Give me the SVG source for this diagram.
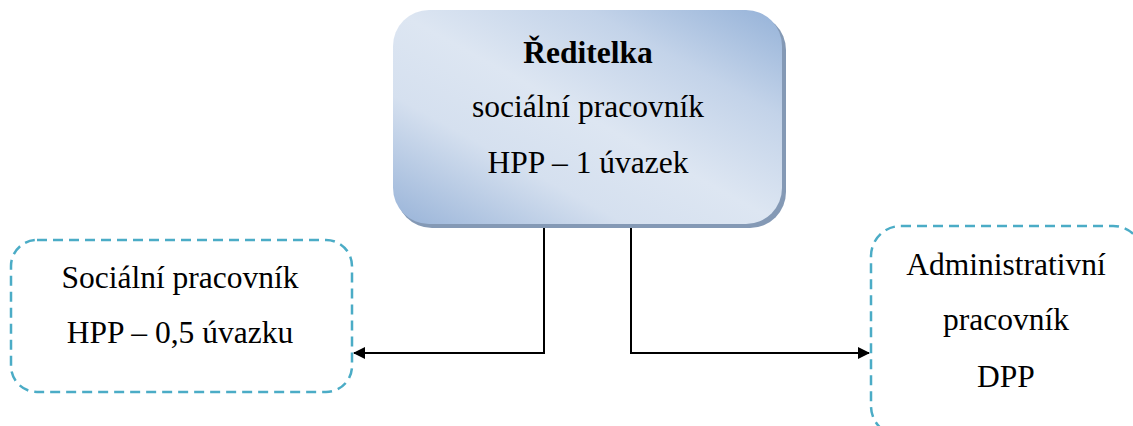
<svg xmlns="http://www.w3.org/2000/svg" width="1133" height="426" viewBox="0 0 1133 426">
<defs>
<linearGradient id="g" x1="0" y1="1" x2="1" y2="0">
<stop offset="0" stop-color="#98b3d8"/>
<stop offset="0.3" stop-color="#d5e0ef"/>
<stop offset="0.5" stop-color="#dde6f2"/>
<stop offset="0.75" stop-color="#c3d3e9"/>
<stop offset="1" stop-color="#95b2d8"/>
</linearGradient>
<marker id="arr" markerWidth="12" markerHeight="12" refX="11" refY="6" orient="auto-start-reverse" markerUnits="userSpaceOnUse">
<path d="M0,0 L12,6 L0,12 Z" fill="#000"/>
</marker>
<style>
.d{fill:#fff;stroke:#4bacc6;stroke-width:2.5;stroke-dasharray:10 6}
.c{fill:none;stroke:#000;stroke-width:2}
text{font-family:'Liberation Serif','Times New Roman',serif;font-size:31.5px;fill:#000;text-anchor:middle}
</style>
</defs>
<g id="connectors">
<path class="c" d="M544,225 V353 H354" marker-end="url(#arr)"/>
<path class="c" d="M631,225 V353 H869" marker-end="url(#arr)"/>
</g>
<g id="director">
<rect x="396" y="14" width="390" height="214" rx="36" fill="#8499b5"/>
<rect x="393" y="10" width="389" height="214" rx="36" fill="url(#g)"/>
<text x="588" y="63" font-weight="bold">Ředitelka</text>
<text x="588" y="117">sociální pracovník</text>
<text x="588" y="173">HPP – 1 úvazek</text>
</g>
<g id="social">
<rect class="d" x="11" y="240" width="341" height="152" rx="26"/>
<text x="180" y="288">Sociální pracovník</text>
<text x="180" y="343">HPP – 0,5 úvazku</text>
</g>
<g id="admin">
<rect class="d" x="871" y="226" width="272" height="210" rx="30"/>
<text x="1006" y="275">Administrativní</text>
<text x="1006" y="330">pracovník</text>
<text x="1006" y="387">DPP</text>
</g>
</svg>
